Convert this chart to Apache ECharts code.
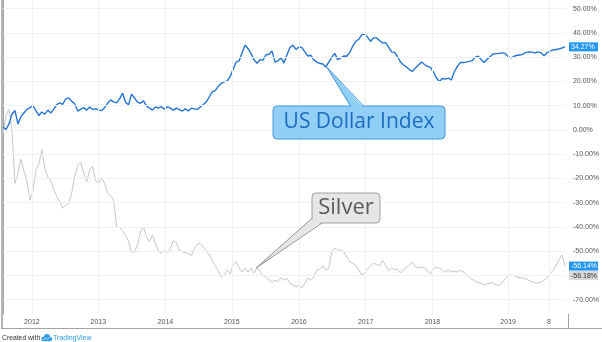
<!DOCTYPE html>
<html><head><meta charset="utf-8">
<script src="https://cdn.jsdelivr.net/npm/echarts@6/dist/echarts.min.js"></script>
<style>html,body{margin:0;padding:0;background:#fff}#c{width:602px;height:342px}</style>
</head><body><div id="c"></div>
<script>
// US Dollar Index, % change (one value per time step)
const usdIndex = [
1.2,0.2,2.5,6.5,8.0,2.5,5.5,7.0,8.5,9.2,10.0,8.0,6.0,7.4,6.5,8.2,7.0,8.6,10.5,11.2,
10.6,12.8,13.2,11.8,10.8,7.8,8.6,9.2,8.2,9.5,8.4,8.8,8.2,8.0,9.2,11.0,12.4,11.6,11.2,12.8,
15.2,11.5,10.3,14.8,13.2,11.5,11.0,12.0,9.9,9.0,8.2,9.5,9.0,9.6,8.6,9.5,9.0,8.2,9.0,8.4,
7.8,8.7,7.8,9.0,8.7,8.4,9.5,10.5,11.5,13.6,15.7,16.2,18.0,19.2,19.8,20.2,22.0,25.0,28.0,28.5,
31.8,35.0,33.5,31.5,28.9,27.5,29.0,28.8,31.0,31.2,32.6,28.0,28.5,29.8,27.6,31.0,34.0,35.0,33.2,34.2,
34.0,32.2,30.5,30.8,28.9,28.0,27.4,27.2,26.0,28.0,30.0,31.6,29.0,29.7,30.5,30.4,32.0,34.5,36.5,37.4,
39.2,39.6,38.2,36.6,38.0,38.0,36.8,35.9,36.0,34.2,32.2,32.0,30.2,28.0,26.8,26.0,24.8,24.2,25.6,26.8,
28.0,27.0,26.2,25.8,24.0,21.4,20.0,21.2,21.0,21.4,20.6,24.0,26.2,27.8,27.8,28.0,28.3,28.6,30.0,30.4,
29.0,27.8,29.2,30.3,31.4,31.5,31.6,31.8,31.6,30.2,29.7,30.4,30.8,30.9,31.3,32.0,32.2,32.1,31.8,32.2,
31.8,30.6,31.8,32.5,33.0,33.2,33.4,33.8,34.27
];
// Silver, % change (same time steps)
const silver = [
-2,6,8.5,0,-22,-18,-12,-17,-21,-29,-25.6,-16.5,-14,-8,-16,-19.4,-21,-24.5,-27.5,-29.7,
-32.2,-31,-30.2,-26,-19,-14.5,-13.2,-17.7,-21.4,-16.5,-15,-21,-21.9,-19.8,-22,-26,-27,-28.9,-40,-40.2,
-41.5,-43.5,-46,-50.5,-50.3,-47.5,-42,-40,-44.1,-46.2,-43.3,-47,-49.8,-51,-49.5,-50.6,-49,-45.5,-46.6,-49.5,
-50.3,-50.6,-51,-51.8,-49,-47,-46.8,-48.2,-50,-51.5,-54,-56,-58,-60.6,-59.8,-57.7,-59.5,-55.5,-54.4,-56.9,
-58.6,-57,-58.6,-56.9,-59,-57,-58.2,-60,-60.6,-61.9,-62.7,-62,-62.5,-61,-61.9,-61.2,-63.3,-64,-64.7,-64,
-65.2,-63.1,-61,-61.9,-60.6,-57.7,-57.5,-56,-57.8,-57,-50.3,-48.7,-49.5,-49.5,-50.3,-52.4,-54.4,-55,-55.7,-57.7,
-59.8,-58.8,-57.2,-56,-55,-55.5,-56,-53.8,-55.8,-58,-56.9,-57.5,-57.5,-59,-57.5,-56.8,-55.5,-54.6,-56.5,-56.8,
-56.5,-57,-58,-59.5,-57.2,-56.6,-57,-57.9,-58.6,-57.7,-58.6,-58.2,-58.6,-57.9,-58.4,-59.8,-60.8,-61.6,-62.4,-63,
-63.2,-63.9,-63.5,-63.1,-63.1,-63.9,-63.9,-63,-61.5,-60.2,-59.8,-60,-60.7,-61,-61,-61.4,-62.1,-62.6,-63,-63.1,
-62.8,-62,-61,-59.2,-58,-56,-53.5,-51.5,-56.14
];
// x-axis ticks (time-step positions) and labels
const yearTickPos = [9.67, 31.9, 54.33, 76.57, 99, 121.33, 143.67, 169, 182.67];
const yearTickLabels = ['2012','2013','2014','2015','2016','2017','2018','2019','8'];
// y-axis ticks (%)
const yTicks = [-70,-60,-50,-40,-30,-20,-10,0,10,20,30,40,50];
const yHiddenLabel = -60; // covered by the -56.18% badge
// price-scale badges
const badgeValues = [34.27, -56.14, -56.18];
// callout anchors [time step, value]
const usdAnchor = [108.3, 26.0];
const silverAnchor = [84.7, -56.9];

const FONT = "'Liberation Sans', Arial, sans-serif";
const chart = echarts.init(document.getElementById('c'), null, {renderer: 'canvas'});

const option = {
  animation: false,
  backgroundColor: '#fff',
  grid: {left: 3, right: 34, top: 0, bottom: 28, containLabel: false},
  xAxis: {
    type: 'value', min: 0, max: 188.33,
    axisLine: {show: true, lineStyle: {color: '#a3a3a3', width: 1}},
    axisTick: {show: true, customValues: yearTickPos, length: 2, lineStyle: {color: '#a3a3a3'}},
    axisLabel: {
      customValues: yearTickPos, fontSize: 7, color: '#555', margin: 5, fontFamily: FONT,
      formatter: function (v) {
        let best = 0, d = 1e9;
        yearTickPos.forEach((p, i) => { if (Math.abs(p - v) < d) { d = Math.abs(p - v); best = i; } });
        return yearTickLabels[best];
      }
    },
    splitLine: {show: false}
  },
  yAxis: {
    type: 'value', position: 'right', min: -75.9, max: 53.6,
    axisLine: {show: true, lineStyle: {color: '#a3a3a3', width: 1}},
    axisTick: {show: true, customValues: yTicks, length: 4, lineStyle: {color: '#999'}},
    axisLabel: {customValues: yTicks, fontSize: 7, color: '#555', margin: 7, fontFamily: FONT,
      formatter: v => (Math.abs(v - yHiddenLabel) < 0.01 ? '' : v.toFixed(2) + '%')},
    splitLine: {show: false}
  },
  series: [
    {
      type: 'line', name: 'Silver', showSymbol: false, z: 2,
      data: silver.map((v, i) => [i, v]),
      lineStyle: {color: '#c5c7d0', width: 1},
      markLine: {
        silent: true, symbol: ['none', 'none'], label: {show: false},
        lineStyle: {color: '#eef2f7', type: 'solid', width: 1},
        data: yTicks.map(v => ({yAxis: v})).concat(yearTickPos.map(v => ({xAxis: v})))
      }
    },
    {
      type: 'line', name: 'US Dollar Index', showSymbol: false, z: 3,
      data: usdIndex.map((v, i) => [i, v]),
      lineStyle: {color: '#2474d4', width: 1.4}
    }
  ]
};
chart.setOption(option);

const tipUsd = chart.convertToPixel({gridIndex: 0}, usdAnchor);
const tipSil = chart.convertToPixel({gridIndex: 0}, silverAnchor);
const yb = badgeValues.map(v => chart.convertToPixel({yAxisIndex: 0}, v));

function badge(y, text, fill, color) {
  return {type: 'group', z: 100, children: [
    {type: 'rect', z: 100, shape: {x: 569, y: y - 4.5, width: 29, height: 9}, style: {fill: fill}},
    {type: 'text', z: 101, x: 571, y: y, style: {text: text, fill: color, font: '7px ' + FONT, textVerticalAlign: 'middle'}}
  ]};
}

chart.setOption({
  graphic: [
    // frame
    {type: 'line', shape: {x1: 2, y1: 0, x2: 2, y2: 328}, style: {stroke: '#b5b5b5', lineWidth: 2}, z: 50},
    {type: 'line', shape: {x1: 1, y1: 328.5, x2: 602, y2: 328.5}, style: {stroke: '#a3a3a3', lineWidth: 1}, z: 50},
    {type: 'line', shape: {x1: 568.5, y1: 314, x2: 568.5, y2: 328}, style: {stroke: '#a3a3a3', lineWidth: 1}, z: 50},
    // US Dollar Index callout
    {type: 'rect', z: 60, shape: {x: 273, y: 106, width: 172, height: 33, r: 4},
      style: {fill: '#92cff7', stroke: '#4598e2', lineWidth: 1}},
    {type: 'polygon', z: 61, shape: {points: [tipUsd, [351, 108], [364, 108]]}, style: {fill: '#92cff7'}},
    {type: 'polyline', z: 62, shape: {points: [[351, 106.5], tipUsd, [364, 106.5]]}, style: {stroke: '#4598e2', lineWidth: 1, fill: null}},
    {type: 'text', z: 63, x: 359, y: 122.5, style: {text: 'US Dollar Index', fill: '#1c6cc0', font: "21px 'Open Sans', sans-serif", textAlign: 'center', textVerticalAlign: 'middle'}},
    // Silver callout
    {type: 'rect', z: 60, shape: {x: 312, y: 193, width: 68, height: 30, r: 4},
      style: {fill: '#e6e6e8', stroke: '#a0a0a0', lineWidth: 1}},
    {type: 'polygon', z: 61, shape: {points: [tipSil, [313.5, 218], [322, 221.5]]}, style: {fill: '#e6e6e8'}},
    {type: 'polyline', z: 62, shape: {points: [[312.5, 218], tipSil, [322, 223]]}, style: {stroke: '#909090', lineWidth: 1, fill: null}},
    {type: 'text', z: 63, x: 346, y: 207.5, style: {text: 'Silver', fill: '#5a5a5a', font: "22px 'Open Sans', sans-serif", textAlign: 'center', textVerticalAlign: 'middle'}},
    // price-scale badges
    badge(yb[0], badgeValues[0].toFixed(2) + '%', '#2196f3', '#fff'),
    badge(yb[1], badgeValues[1].toFixed(2) + '%', '#2196f3', '#fff'),
    badge(yb[1] + 9.5, badgeValues[2].toFixed(2) + '%', '#d9d9db', '#333'),
    // footer
    {type: 'text', x: 2, y: 338, style: {text: 'Created with', fill: '#333', font: '6.8px ' + FONT, textVerticalAlign: 'middle'}},
    {type: 'circle', shape: {cx: 43.5, cy: 339, r: 2.2}, style: {fill: '#2a9ae6'}},
    {type: 'circle', shape: {cx: 47, cy: 337, r: 3}, style: {fill: '#2a9ae6'}},
    {type: 'circle', shape: {cx: 50.3, cy: 339, r: 2}, style: {fill: '#2a9ae6'}},
    {type: 'rect', shape: {x: 43.5, y: 339, width: 7, height: 2.2}, style: {fill: '#2a9ae6'}},
    {type: 'polyline', shape: {points: [[43, 340], [45.5, 338], [47.5, 339.3], [50.5, 336.5]]}, style: {stroke: '#fff', lineWidth: 0.8, fill: null}},
    {type: 'text', x: 53, y: 338, style: {text: 'TradingView', fill: '#2a9ae6', font: '7px ' + FONT, textVerticalAlign: 'middle'}}
  ]
});
</script></body></html>
